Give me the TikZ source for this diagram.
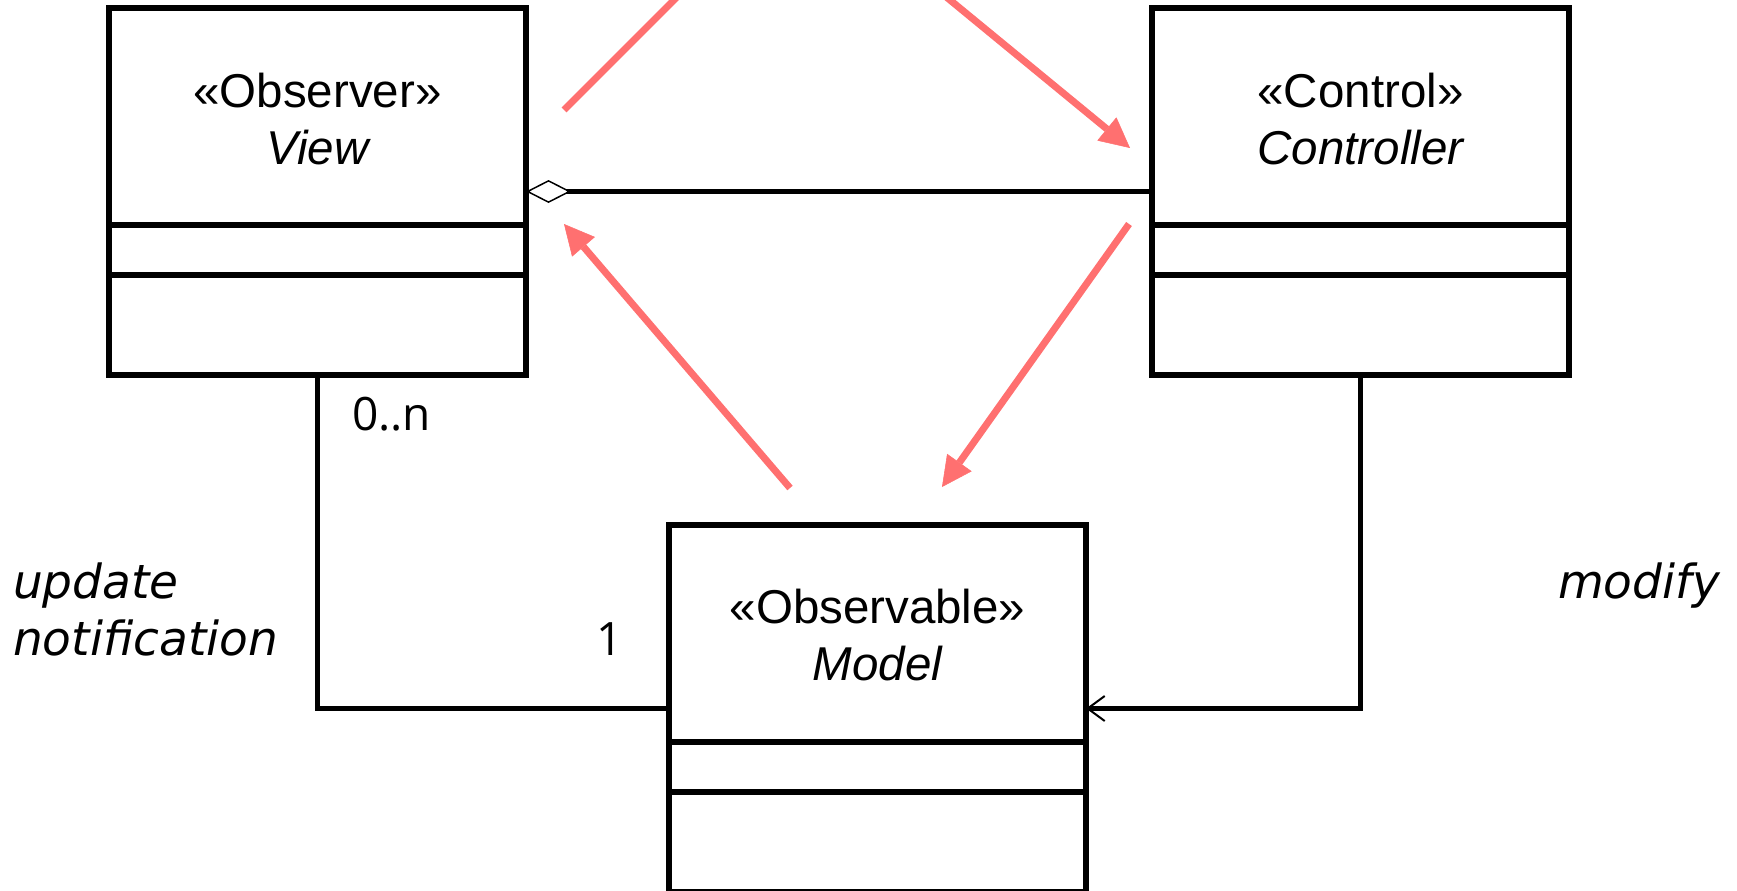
\documentclass[tikz,border=0pt]{standalone}
\usepackage{fontspec}
\setmainfont{Liberation Sans}
\newfontfamily\notefont{Open Sans}
\newfontfamily\actfont{DejaVu Sans}
\usetikzlibrary{arrows.meta}

\definecolor{flow}{RGB}{255,112,112}

\tikzset{
  classbox/.style={draw, line width=5.5pt, minimum width=417pt, minimum height=367pt, inner sep=0pt, outer sep=0pt},
  stereo/.style={anchor=base, inner sep=0pt, font=\fontsize{47.5}{57}\selectfont},
  assoc/.style={line width=4.5pt},
  flowline/.style={draw=flow, line width=7pt},
  flowarrow/.style={flowline, -{Triangle[length=30pt, width=30pt, line width'=0.5pt]}},
  note/.style={anchor=base west, inner sep=0pt, font=\notefont\fontsize{46}{57}\selectfont},
  act/.style={anchor=base west, inner sep=0pt, font=\actfont\itshape\fontsize{47}{57}\selectfont},
}

\begin{document}
\begin{tikzpicture}[x=1pt, y=-1pt]
\useasboundingbox (0,0) rectangle (1737,891);
\clip (0,0) rectangle (1737,891);

% classes
\node[classbox] (view) at (317.5,191.5) {};
\node[classbox] (ctrl) at (1360.5,191.5) {};
\node[classbox] (model) at (877.5,708.5) {};

% compartments
\foreach \c in {view,ctrl,model}{
  \draw[line width=5.5pt] ([yshift=-217pt]\c.north west) -- ([yshift=-217pt]\c.north east);
  \draw[line width=5.5pt] ([yshift=-267pt]\c.north west) -- ([yshift=-267pt]\c.north east);
}

% names
\node[stereo] (viewst) at ([yshift=-99pt]view.north) {«Observer»};
\node[stereo] (viewnm) at ([yshift=-57pt]viewst.base) {\itshape View};
\node[stereo] (ctrlst) at ([yshift=-99pt]ctrl.north) {«Control»};
\node[stereo] (ctrlnm) at ([yshift=-57pt]ctrlst.base) {\itshape Controller};
\node[stereo] (modelst) at ([yshift=-98pt]model.north) {«Observable»};
\node[stereo] (modelnm) at ([yshift=-57pt]modelst.base) {\itshape Model};

% associations
\draw[assoc, -{Diamond[fill=white, length=45pt, width=23pt, line width'=1.5pt]}] (ctrl.west) -- (view.east);
\draw[assoc] (view.south) |- (model.west);
\draw[assoc, -{Straight Barb[length=17pt, width=25pt, line width'=2pt]}] (ctrl.south) |- (model.east);

% flow
\coordinate (vout) at (564,110);
\coordinate (vtop) at (690,-16);
\coordinate (ctop) at (930.5,-16);
\coordinate (cin) at (1130,148);
\coordinate (cout) at (1129,224);
\coordinate (min) at (942,487);
\coordinate (mout) at (790,488);
\coordinate (vin) at (564,224);
\draw[flowline] (vout) -- (vtop);
\draw[flowarrow] (ctop) -- (cin);
\draw[flowarrow] (cout) -- (min);
\draw[flowarrow] (mout) -- (vin);

% labels
\node[note] (many) at (352,430) {0..n};
\node[note] (one) at (596,655) {1};
\node[act] (upd) at (13,598) {update};
\node[act] (notif) at (13,655) {notification};
\node[act] (modify) at (1558,598) {modify};
\end{tikzpicture}
\end{document}
